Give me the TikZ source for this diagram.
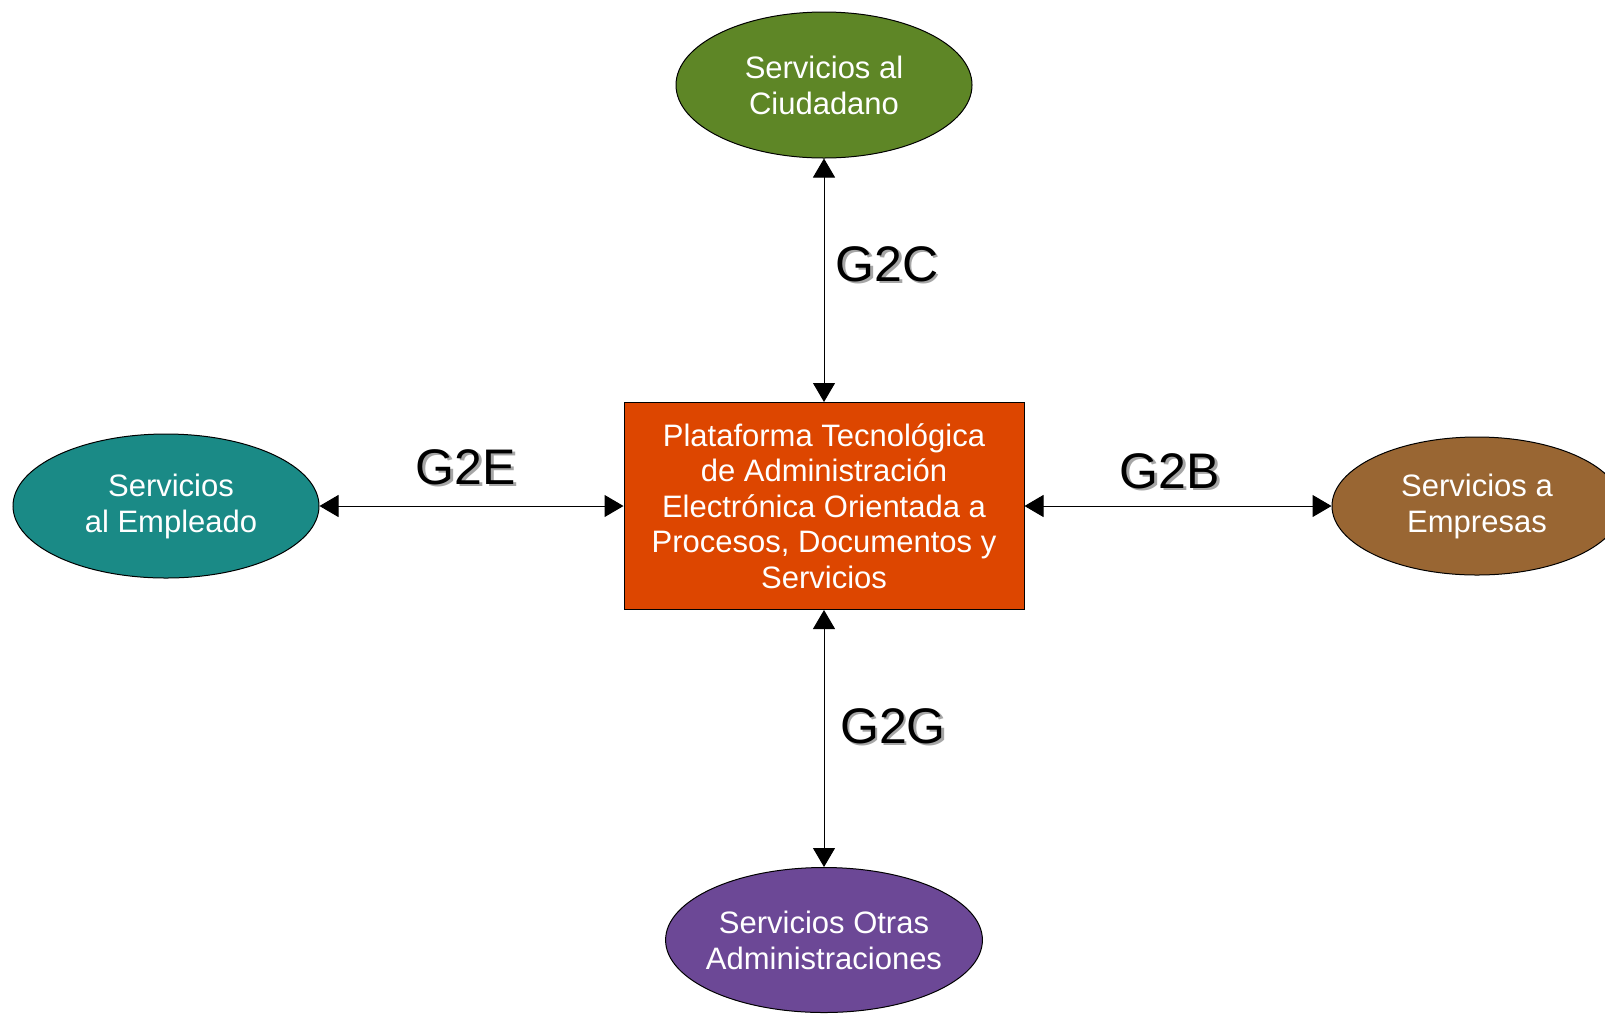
\documentclass[tikz,border=0pt]{standalone}
\usepackage{fontspec}
\setmainfont{Liberation Sans}
\usetikzlibrary{shapes.geometric,arrows.meta}
\definecolor{cgreen}{RGB}{94,134,38}
\definecolor{cteal}{RGB}{26,138,134}
\definecolor{cbrown}{RGB}{153,102,51}
\definecolor{cpurple}{RGB}{108,72,150}
\definecolor{corange}{RGB}{221,70,0}
\tikzset{
  svc/.style={ellipse, draw=black, line width=1pt, text=white, inner sep=0pt,
    align=center, font=\fontsize{31}{36}\selectfont},
  platform/.style={rectangle, draw=black, line width=1pt, fill=corange, text=white,
    align=center, minimum width=400pt, minimum height=207pt, inner sep=0pt,
    font=\fontsize{31}{35.5}\selectfont},
  link/.style={line width=1pt, {Triangle[length=19pt,width=22pt]}-{Triangle[length=19pt,width=22pt]}},
  tag/.style={font=\fontsize{50}{50}\selectfont, text=black},
  tagshadow/.style={font=\fontsize{50}{50}\selectfont, text=black!35}
}
\begin{document}
\begin{tikzpicture}[x=1pt,y=-1pt]
\useasboundingbox[fill=white] (0,0) rectangle (1605,1013);
\node[platform] (plat) at (824,506) {Plataforma Tecnológica\\de Administración\\Electrónica Orientada a\\Procesos, Documentos y\\Servicios};
\node[svc, fill=cgreen, minimum width=296pt, minimum height=146pt] (ciud) at (824,85) {Servicios al\\Ciudadano};
\node[svc, fill=cteal, minimum width=306pt, minimum height=144pt] (emp) at (166,506) {\hspace*{10pt}Servicios\\\hspace*{10pt}al Empleado};
\node[svc, fill=cbrown, minimum width=290pt, minimum height=138pt] (empr) at (1477,506) {Servicios a\\Empresas};
\node[svc, fill=cpurple, minimum width=314pt, minimum height=145pt, inner xsep=-6pt] (adm) at (824,940) {Servicios Otras\\Administraciones};
\draw[link] (ciud.south) -- (plat.north);
\draw[link] (plat.south) -- (adm.north);
\draw[link] (emp.east) -- (plat.west);
\draw[link] (plat.east) -- (empr.west);
\node[tagshadow] (g2cs) at (889.5,266.5) {G2C};
\node[tag] (g2c) at (887,264) {G2C};
\node[tagshadow] (g2es) at (468.5,469.5) {G2E};
\node[tag] (g2e) at (466,467) {G2E};
\node[tagshadow] (g2bs) at (1172.5,473.5) {G2B};
\node[tag] (g2b) at (1170,471) {G2B};
\node[tagshadow] (g2gs) at (895.5,728.5) {G2G};
\node[tag] (g2g) at (893,726) {G2G};
\end{tikzpicture}
\end{document}
